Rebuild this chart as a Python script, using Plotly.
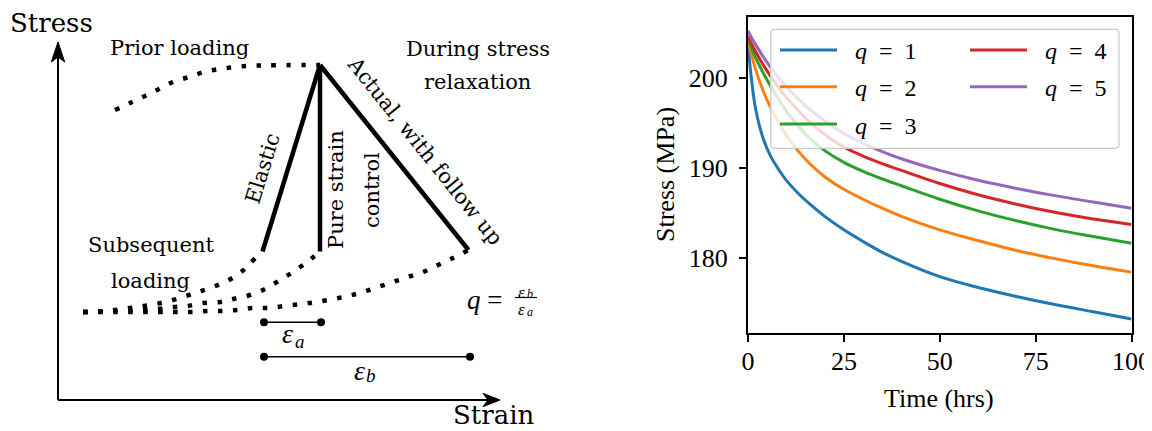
import plotly.graph_objects as go

# ---------------- Right panel data: stress relaxation ----------------
time_hrs = [0, 1, 2, 4, 6, 8, 10, 13, 16, 20, 25, 30, 35, 40, 50, 60, 70, 80, 90, 100]
stress_q1 = [203.6, 199.5, 196.5, 193.2, 191.2, 189.8, 188.6, 187.2, 186.0, 184.6, 183.1,
             181.8, 180.6, 179.6, 177.9, 176.7, 175.7, 174.8, 174.0, 173.2]
stress_q2 = [204.2, 202.4, 200.9, 198.5, 196.6, 195.0, 193.6, 191.9, 190.5, 189.0, 187.6,
             186.5, 185.5, 184.6, 183.1, 181.9, 180.8, 179.9, 179.1, 178.4]
stress_q3 = [204.4, 203.2, 202.2, 200.5, 199.0, 197.6, 196.3, 194.7, 193.3, 191.9, 190.6,
             189.6, 188.75, 188.0, 186.5, 185.2, 184.1, 183.15, 182.35, 181.6]
stress_q4 = [204.6, 203.7, 202.9, 201.4, 200.1, 198.9, 197.8, 196.4, 195.1, 193.7, 192.3,
             191.3, 190.45, 189.7, 188.25, 187.0, 185.95, 185.05, 184.3, 183.7]
stress_q5 = [205.2, 204.4, 203.7, 202.3, 201.1, 200.0, 199.0, 197.7, 196.5, 195.2, 193.8,
             192.7, 191.8, 191.0, 189.7, 188.6, 187.7, 186.9, 186.2, 185.5]
q_values = [1, 2, 3, 4, 5]
series_colors = ["#1f77b4", "#ff7f0e", "#2ca02c", "#d62728", "#9467bd"]
x_ticks = [0, 25, 50, 75, 100]
y_ticks = [180, 190, 200]

# ---------------- Left panel: schematic (strain, stress) ----------------
prior_strain = [57, 72, 87, 101, 115, 131, 146, 161, 177, 193, 209, 262]
prior_stress = [290, 297, 304, 311, 318, 323, 328, 331, 333, 334.3, 334.7, 335]

elastic_strain = [262, 204.5]
elastic_stress = [335, 148.5]
pure_strain = [262, 262]
pure_stress = [335, 148.5]
actual_strain = [262, 410.5]
actual_stress = [335, 150]

sub1_strain = [25, 49, 64, 79, 92, 107, 122, 137, 152, 167, 182, 192, 204.5]
sub1_stress = [88, 89, 91, 93, 95, 98, 102, 107, 112, 118, 127, 136.7, 148.5]
sub2_strain = [25, 65, 82, 99, 115, 129, 145, 162, 175, 192, 209, 222, 235, 249, 262]
sub2_stress = [88, 89, 90, 91, 93, 94, 97, 98, 101, 105, 112, 120, 128, 138, 148.5]
sub3_strain = [25, 82, 115, 134, 149, 164, 179, 194, 210, 227, 244, 259, 275, 290, 305,
               320, 335, 350, 365, 380, 395, 410.5]
sub3_stress = [88, 88, 88, 88, 89, 89, 90, 92, 92, 94, 96, 98, 101, 104, 108,
               113, 118, 123, 128, 135, 142, 150]

eps_a_strain = [206, 263]
eps_a_level = [77.7, 77.7]
eps_b_strain = [206, 412]
eps_b_level = [43.3, 43.3]

stress_axis_strain = [0, 0]
stress_axis_stress = [0, 345]
strain_axis_strain = [0, 430]
strain_axis_stress = [0, 0]

LEFT_FONT = "DejaVu Serif"
MATH_FONT = "Liberation Serif"

# page geometry (the page body has an 8px margin)
W, H = 1152, 431
OFF = 8
FW, FH = W - OFF, H - OFF


def px(x):
    return (x - OFF) / FW


def py(y):
    return 1 - (y - OFF) / FH


fig = go.Figure()

# right panel curves
for q, col, ys in zip(q_values, series_colors,
                      [stress_q1, stress_q2, stress_q3, stress_q4, stress_q5]):
    fig.add_trace(go.Scatter(
        x=time_hrs, y=ys, mode="lines", name=f"q = {q}",
        line=dict(color=col, width=3, shape="spline", smoothing=1.0),
        xaxis="x", yaxis="y", showlegend=False, hoverinfo="skip"))


# left schematic
def sch(xs, ys, width, dash=None, mode="lines", shape="linear", marker=None):
    line = dict(color="black", width=width, shape=shape)
    if dash:
        line["dash"] = dash
    kw = dict(x=xs, y=ys, mode=mode, line=line, xaxis="x2", yaxis="y2",
              showlegend=False, hoverinfo="skip")
    if marker:
        kw["marker"] = marker
    fig.add_trace(go.Scatter(**kw))


DOT = "4.5px,10.5px"
sch(stress_axis_strain, stress_axis_stress, 2)
sch(strain_axis_strain, strain_axis_stress, 2)
sch(prior_strain, prior_stress, 4.5, dash=DOT, shape="spline")
sch(sub1_strain, sub1_stress, 4.5, dash=DOT, shape="spline")
sch(sub2_strain, sub2_stress, 4.5, dash=DOT, shape="spline")
sch(sub3_strain, sub3_stress, 4.5, dash=DOT, shape="spline")
sch(elastic_strain, elastic_stress, 4.5)
sch(pure_strain, pure_stress, 4.5)
sch(actual_strain, actual_stress, 4.5)
sch(eps_a_strain, eps_a_level, 1.5, mode="lines+markers", marker=dict(size=8, color="black"))
sch(eps_b_strain, eps_b_level, 1.5, mode="lines+markers", marker=dict(size=8, color="black"))

shapes = []
# arrowheads on the schematic axes
shapes.append(dict(type="path", xref="x2", yref="y2",
                   path="M 0,358 L -6.7,338 L 0,343 L 6.7,338 Z",
                   fillcolor="black", line=dict(color="black", width=1)))
shapes.append(dict(type="path", xref="x2", yref="y2",
                   path="M 442,0 L 425,6.7 L 430,0 L 425,-6.7 Z",
                   fillcolor="black", line=dict(color="black", width=1)))
# fraction bar for q = eps_b / eps_a
shapes.append(dict(type="line", xref="x2", yref="y2", x0=457, x1=479, y0=102.5, y1=102.5,
                   line=dict(color="black", width=1.2)))

# manual legend (right panel)
lx0, lx1, ly0, ly1 = px(770.7), px(1119), py(29.3), py(148.3)
rx, ry = 4 / FW, 4 / FH
legend_path = (f"M{lx0+rx},{ly0} L{lx1-rx},{ly0} Q{lx1},{ly0} {lx1},{ly0-ry} "
               f"L{lx1},{ly1+ry} Q{lx1},{ly1} {lx1-rx},{ly1} L{lx0+rx},{ly1} "
               f"Q{lx0},{ly1} {lx0},{ly1+ry} L{lx0},{ly0-ry} Q{lx0},{ly0} {lx0+rx},{ly0} Z")
shapes.append(dict(type="path", xref="paper", yref="paper", path=legend_path,
                   fillcolor="rgba(255,255,255,0.8)", line=dict(color="#cccccc", width=1.3),
                   layer="above"))

annotations = []
row_y = [50, 86.7, 124]
col_line = [(780, 837), (970, 1027)]
col_text = [886, 1076]
for i, (q, col) in enumerate(zip(q_values, series_colors)):
    c = 0 if i < 3 else 1
    r = i if i < 3 else i - 3
    shapes.append(dict(type="line", xref="paper", yref="paper",
                       x0=px(col_line[c][0]), x1=px(col_line[c][1]),
                       y0=py(row_y[r]), y1=py(row_y[r]),
                       line=dict(color=col, width=3), layer="above"))
    annotations.append(dict(text=f"<i>q</i>\u2002=\u2002{q}", xref="paper", yref="paper",
                            x=px(col_text[c]), y=py(row_y[r] + 1.5), showarrow=False,
                            xanchor="center", yanchor="middle",
                            font=dict(family=MATH_FONT, size=24, color="black")))

# right axis titles
annotations.append(dict(text="Time (hrs)", xref="paper", yref="paper", x=px(939), y=py(398),
                        showarrow=False, xanchor="center", yanchor="middle",
                        font=dict(family=MATH_FONT, size=26, color="black")))
annotations.append(dict(text="Stress (MPa)", xref="paper", yref="paper", x=px(665), y=py(175),
                        showarrow=False, xanchor="center", yanchor="middle", textangle=-90,
                        font=dict(family=MATH_FONT, size=26, color="black")))


# left schematic texts (given in page pixels, converted to paper)
def txt(t, x, y, size, angle=0, family=LEFT_FONT):
    annotations.append(dict(text=t, xref="paper", yref="paper", x=px(x), y=py(y),
                            showarrow=False, xanchor="center", yanchor="middle",
                            textangle=angle,
                            font=dict(family=family, size=size, color="black")))


txt("Stress", 51, 23, 26)
txt("Strain", 494, 415, 26)
txt("Prior loading", 179, 48, 21)
txt("During stress", 477.5, 49, 21)
txt("relaxation", 477.5, 82, 21)
txt("Subsequent", 150.5, 245, 21)
txt("loading", 150, 281, 21)
txt("Elastic", 262.5, 169, 21, angle=-72.8)
txt("Pure strain", 336, 190, 21, angle=-90)
txt("control", 371.5, 190.5, 21, angle=-90)
txt("Actual, with follow up", 425, 151, 21, angle=51.3)
# epsilon labels (symbol + subscript as separate texts)
txt("<i>ε</i>", 287.5, 333, 28, family=MATH_FONT)
txt("<i>a</i>", 300, 341, 19, family=MATH_FONT)
txt("<i>ε</i>", 359, 370, 28, family=MATH_FONT)
txt("<i>b</i>", 371, 375, 19, family=MATH_FONT)
txt("<i>q</i> =", 484, 300, 27, family=MATH_FONT)
txt("<i>ε</i>", 521.5, 292, 17, family=MATH_FONT)
txt("<i>b</i>", 530, 294, 12, family=MATH_FONT)
txt("<i>ε</i>", 521.5, 309, 17, family=MATH_FONT)
txt("<i>a</i>", 530, 312, 12, family=MATH_FONT)

tickfont = dict(family=MATH_FONT, size=26, color="black")
fig.update_layout(
    width=FW, height=FH, margin=dict(l=0, r=0, t=0, b=0),
    paper_bgcolor="white", plot_bgcolor="white", showlegend=False,
    xaxis=dict(domain=[px(748), px(1131.5)], range=[0, 100], tickvals=x_ticks,
               ticks="outside", ticklen=7, tickwidth=2, tickcolor="black",
               showline=True, linecolor="black", linewidth=2, mirror=True,
               showgrid=False, zeroline=False, tickfont=tickfont,
               ticklabelstandoff=-3, automargin=False, anchor="y"),
    yaxis=dict(domain=[py(332.7), py(16.7)], range=[171.67, 206.78], tickvals=y_ticks,
               ticks="outside", ticklen=7, tickwidth=2, tickcolor="black",
               showline=True, linecolor="black", linewidth=2, mirror=True,
               showgrid=False, zeroline=False, tickfont=tickfont,
               ticklabelstandoff=6, automargin=False, anchor="x"),
    xaxis2=dict(domain=[0, px(576)], range=[OFF - 58, 518], visible=False, anchor="y2"),
    yaxis2=dict(domain=[0, 1], range=[400 - H, 400 - OFF], visible=False, anchor="x2"),
    shapes=shapes, annotations=annotations,
)

fig.write_html("out.html")
